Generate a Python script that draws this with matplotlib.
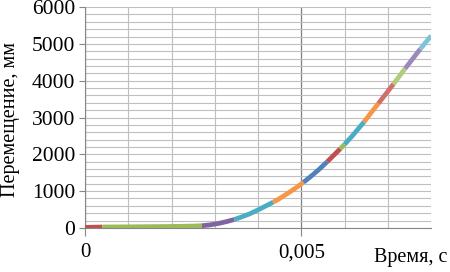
"""
Displacement vs time curve (multi-coloured segments, Excel style).
Output : out.png
"""

import matplotlib
matplotlib.use("Agg")
import matplotlib.pyplot as plt
from matplotlib.ticker import MultipleLocator, FixedLocator, FuncFormatter

# ---------------------------------------------------------------------------
# Data
# ---------------------------------------------------------------------------
TIME = [0.0, 0.0004, 0.0010, 0.0015, 0.0020, 0.0025, 0.0027, 0.0029, 0.0031,
        0.0033, 0.00345, 0.0036, 0.0038, 0.0040, 0.0042, 0.00435, 0.0045,
        0.0047, 0.0049, 0.00505, 0.0052, 0.0054, 0.0056, 0.0059, 0.0060,
        0.0062, 0.00645, 0.0066, 0.00678, 0.0070, 0.00713, 0.0074, 0.00775,
        0.0080]
DISP = [15, 25, 30, 35, 40, 50, 60, 85, 125,
        180, 230, 290, 380, 490, 610, 700, 800,
        950, 1110, 1240, 1380, 1580, 1800, 2150, 2270,
        2530, 2880, 3110, 3380, 3710, 3910, 4330, 4860,
        5220]

# segment end indices into TIME/DISP and their colours
SEG_ENDS = [1, 6, 10, 15, 19, 22, 23, 24, 26, 28, 30, 31, 32, 33]
SEG_COLORS = ["#C0504D", "#9BBB59", "#8064A2", "#4BACC6", "#F79646",
              "#4F81BD", "#C0504D", "#9BBB59", "#4BACC6", "#F79646",
              "#D0706D", "#B3CC7A", "#9D88BA", "#7CC4DA"]

X_LABEL = "Время, с"
Y_LABEL = "Перемещение, мм"

plt.rcParams["font.family"] = ["Liberation Serif", "DejaVu Serif"]

fig = plt.figure(figsize=(4.5, 2.72), dpi=100)
ax = fig.add_axes([0.189, 0.162, 0.769, 0.812])

# ---------------------------------------------------------------------------
# Curve, drawn segment by segment
# ---------------------------------------------------------------------------
start = 0
for end, col in zip(SEG_ENDS, SEG_COLORS):
    ax.plot(TIME[start:end + 1], DISP[start:end + 1], color=col,
            linewidth=3.4, solid_capstyle="butt", solid_joinstyle="round",
            zorder=3)
    start = end

# ---------------------------------------------------------------------------
# Axes, grid
# ---------------------------------------------------------------------------
ax.set_xlim(0, 0.008)
ax.set_ylim(0, 6000)

ax.xaxis.set_major_locator(FixedLocator([0, 0.005]))
ax.xaxis.set_minor_locator(MultipleLocator(0.001))
ax.xaxis.set_major_formatter(FuncFormatter(
    lambda v, p: "0" if v == 0 else f"{v:.3f}".replace(".", ",")))
ax.yaxis.set_major_locator(MultipleLocator(1000))
ax.yaxis.set_minor_locator(MultipleLocator(200))

ax.grid(True, which="minor", color="#BFBFBF", linewidth=0.8)
ax.grid(True, which="major", axis="y", color="#BFBFBF", linewidth=0.8)
ax.grid(True, which="major", axis="x", color="#7F7F7F", linewidth=0.9)
ax.set_axisbelow(True)

for side in ["top", "right"]:
    ax.spines[side].set_visible(False)
ax.spines["left"].set_color("#868686")
ax.spines["bottom"].set_color("#868686")

ax.tick_params(axis="x", which="major", length=6, color="#868686",
               labelsize=15, pad=5)
ax.tick_params(axis="x", which="minor", length=0)
ax.tick_params(axis="y", which="major", length=4, color="#868686",
               labelsize=15.5, pad=3)
ax.tick_params(axis="y", which="minor", length=0)

fig.text(0.024, 0.562, Y_LABEL, fontsize=14.5, rotation=90,
         ha="center", va="center")
fig.text(0.913, 0.052, X_LABEL, fontsize=14.5, ha="center", va="center")

plt.savefig("out.png", dpi=100)
plt.close()
